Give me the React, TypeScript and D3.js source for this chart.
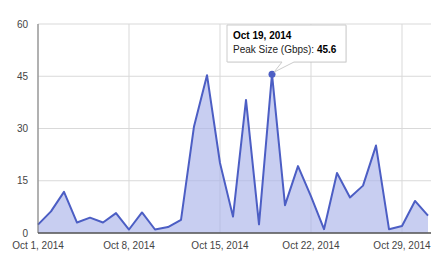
import React from "react";
import * as d3 from "d3";

const dates: string[] = [
  "2014-10-01","2014-10-02","2014-10-03","2014-10-04","2014-10-05","2014-10-06","2014-10-07",
  "2014-10-08","2014-10-09","2014-10-10","2014-10-11","2014-10-12","2014-10-13","2014-10-14",
  "2014-10-15","2014-10-16","2014-10-17","2014-10-18","2014-10-19","2014-10-20","2014-10-21",
  "2014-10-22","2014-10-23","2014-10-24","2014-10-25","2014-10-26","2014-10-27","2014-10-28",
  "2014-10-29","2014-10-30","2014-10-31",
];
const peakSize: number[] = [
  2.4, 6.2, 11.8, 3.0, 4.4, 3.0, 5.7,
  1.0, 5.9, 1.0, 1.7, 3.8, 30.6, 45.3,
  20.1, 4.7, 38.2, 2.5, 45.6, 8.0, 19.2,
  10.5, 1.1, 17.2, 10.2, 13.6, 25.1, 1.1,
  2.0, 9.2, 5.0,
];
const yTicks: number[] = [0, 15, 30, 45, 60];
const xTickDates: string[] = ["2014-10-01", "2014-10-08", "2014-10-15", "2014-10-22", "2014-10-29"];
const xTickLabels: string[] = ["Oct 1, 2014", "Oct 8, 2014", "Oct 15, 2014", "Oct 22, 2014", "Oct 29, 2014"];
const tooltipIndex = 18;
const tooltipTitle = "Oct 19, 2014";
const seriesLabel = "Peak Size (Gbps)";

const W = 431, H = 254;
const FONT = "Arial, 'Liberation Sans', sans-serif";

export default function App() {
  const parse = d3.timeParse("%Y-%m-%d");
  const data = dates.map((d, i) => ({ date: parse(d) as Date, v: peakSize[i] }));
  const x = d3.scaleTime()
    .domain([parse(dates[0]) as Date, parse(dates[dates.length - 1]) as Date])
    .range([38, 428]);
  const y = d3.scaleLinear().domain([0, 60]).range([233, 24]);
  const plotRight = 431;

  const area = d3.area<{ date: Date; v: number }>()
    .x(d => x(d.date)).y0(y(0)).y1(d => y(d.v));
  const line = d3.line<{ date: Date; v: number }>()
    .x(d => x(d.date)).y(d => y(d.v));

  const tp = data[tooltipIndex];
  const px = x(tp.date), py = y(tp.v);
  const bx = 227, by = 25, bw = 119, bh = 37;

  return (
    <svg width={W} height={H} style={{ position: "absolute", left: 0, top: 0, background: "#fff" }}>
      {/* horizontal gridlines */}
      {yTicks.map(t => (
        <line key={"h" + t} x1={38} x2={plotRight} y1={y(t)} y2={y(t)} stroke="#d9d9d9" strokeWidth={1} />
      ))}
      {/* vertical gridlines */}
      {xTickDates.map(d => {
        const xx = x(parse(d) as Date);
        return <line key={"v" + d} x1={xx} x2={xx} y1={y(60)} y2={y(0)} stroke="#d9d9d9" strokeWidth={1} />;
      })}
      <path d={area(data) || ""} fill="#aab4ea" fillOpacity={0.65} />
      <path d={line(data) || ""} fill="none" stroke="#4c5ec4" strokeWidth={2} strokeLinejoin="round" />
      {/* axes */}
      <line x1={38} x2={38} y1={y(60)} y2={y(0)} stroke="#777" strokeWidth={1} />
      <line x1={38} x2={plotRight} y1={y(0)} y2={y(0)} stroke="#555" strokeWidth={1.5} />
      {/* y labels */}
      {yTicks.map(t => (
        <text key={"yl" + t} x={28} y={y(t)} dy="0.35em" textAnchor="end" fontFamily={FONT} fontSize={10} fill="#444">{t}</text>
      ))}
      {/* x labels */}
      {xTickDates.map((d, i) => (
        <text key={"xl" + d} x={x(parse(d) as Date)} y={249} textAnchor="middle" fontFamily={FONT} fontSize={10} fill="#444">{xTickLabels[i]}</text>
      ))}
      {/* focused point */}
      <circle cx={px} cy={py} r={3.5} fill="#4c5ec4" />
      {/* tooltip */}
      <g>
        <rect x={bx + 1} y={by + 1} width={bw} height={bh} fill="#000" opacity={0.06} />
        <path
          d={`M${bx},${by} H${bx + bw} V${by + bh} H${px + 22} L${px + 2},${py - 2} L${px + 10},${by + bh} H${bx} Z`}
          fill="#fff" stroke="#cccccc" strokeWidth={1}
        />
        <text x={bx + 6} y={by + 14} fontFamily={FONT} fontSize={10} fontWeight="bold" fill="#000">{tooltipTitle}</text>
        <text x={bx + 6} y={by + 28} fontFamily={FONT} fontSize={10} fill="#222">
          {seriesLabel + ": "}
          <tspan fontWeight="bold" fill="#000">{tp.v.toFixed(1)}</tspan>
        </text>
      </g>
    </svg>
  );
}
